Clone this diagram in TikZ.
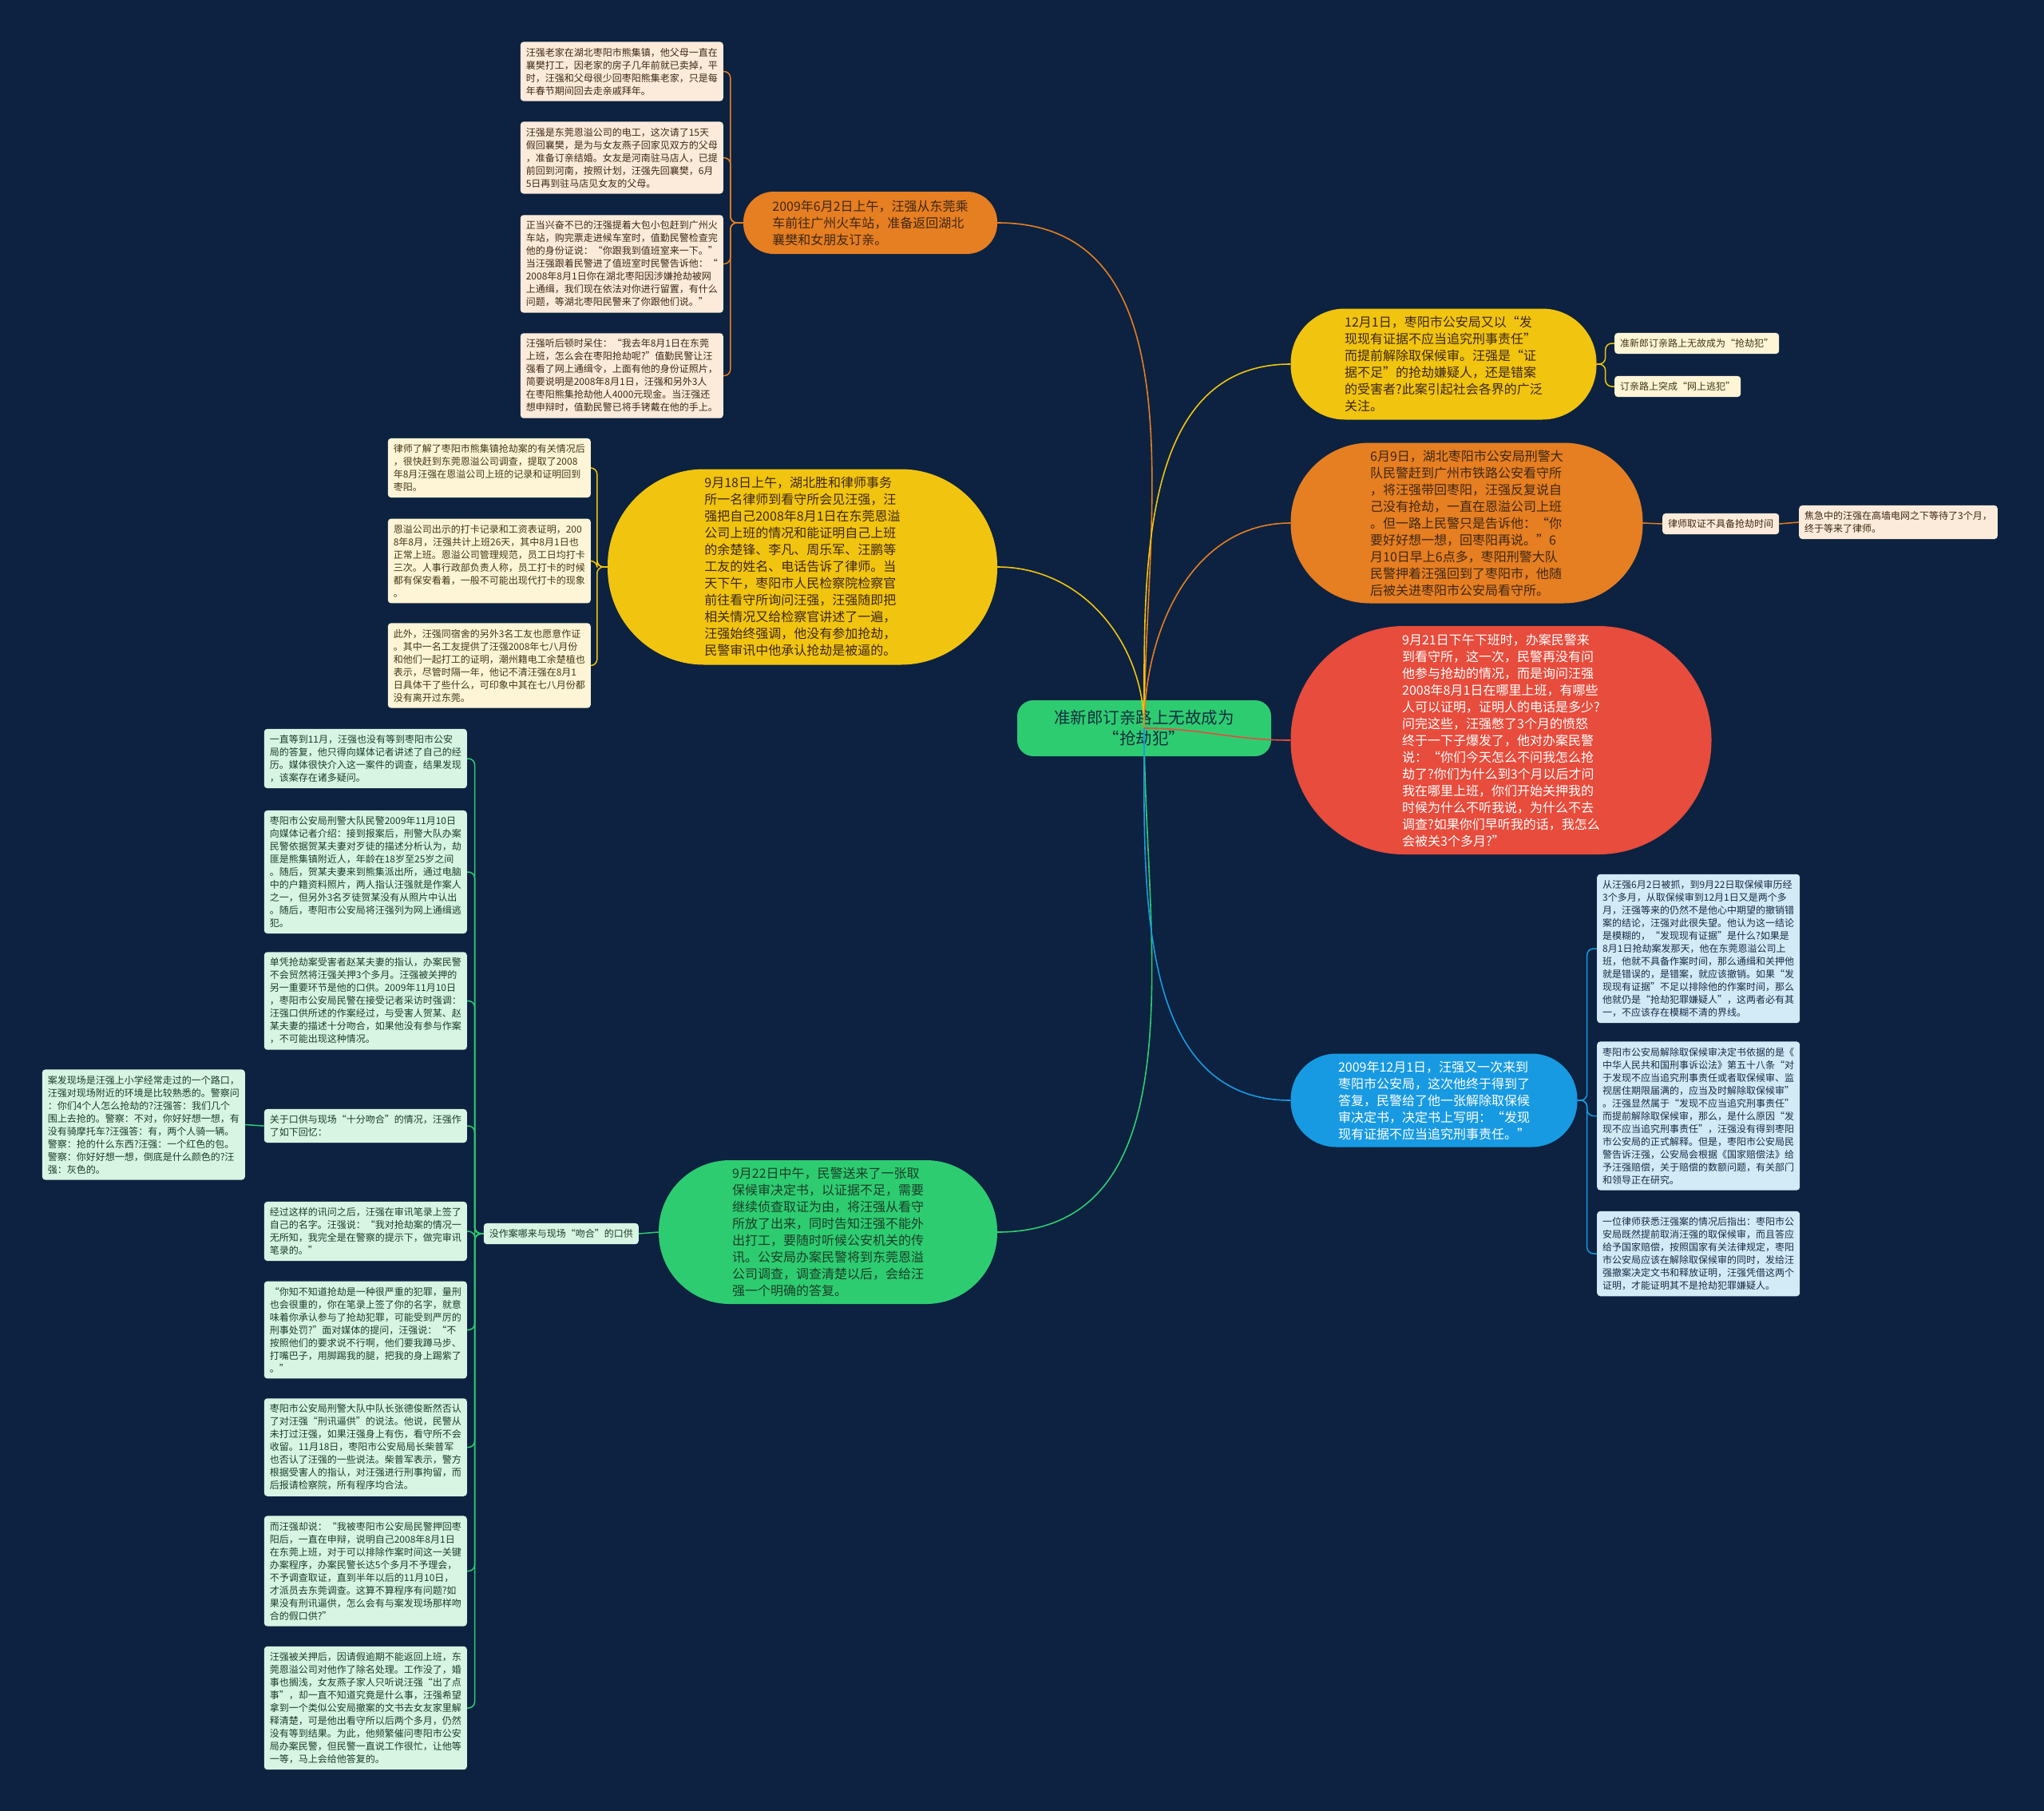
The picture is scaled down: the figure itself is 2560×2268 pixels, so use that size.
\documentclass[tikz,border=0pt]{standalone}
\usepackage{fontspec}
\setmainfont{Noto Sans CJK SC}
\usepackage{xcolor}
\usepackage{tikz}

\definecolor{bgnavy}{RGB}{12,34,64}
\definecolor{brorange}{RGB}{230,126,34}
\definecolor{bryellow}{RGB}{241,196,15}
\definecolor{brgreen}{RGB}{46,204,113}
\definecolor{brred}{RGB}{231,76,60}
\definecolor{brblue}{RGB}{24,154,226}
\definecolor{lforange}{RGB}{252,235,218}
\definecolor{lfyellow}{RGB}{253,245,214}
\definecolor{lfgreen}{RGB}{216,245,228}
\definecolor{lfblue}{RGB}{211,234,247}
\definecolor{inkbrown}{RGB}{62,40,20}
\definecolor{inkolive}{RGB}{66,56,22}
\definecolor{inkgreen}{RGB}{26,62,40}
\definecolor{inkblue}{RGB}{24,44,70}
\definecolor{rootink}{RGB}{18,48,62}

\begin{document}
\begin{tikzpicture}[
  x=1pt,y=1pt,
  leaf/.style={rounded corners=4, align=left, inner xsep=7, inner ysep=7.5, font=\fontsize{12}{16}\selectfont},
  oleaf/.style={leaf, fill=lforange, text=inkbrown},
  yleaf/.style={leaf, fill=lfyellow, text=inkolive},
  gleaf/.style={leaf, fill=lfgreen, text=inkgreen},
  bleaf/.style={leaf, fill=lfblue, text=inkblue},
  branch/.style={align=left, inner sep=0, font=\fontsize{16}{21}\selectfont},
  root/.style={fill=brgreen, text=rootink, rounded corners=20, align=center, minimum width=318, minimum height=70, inner sep=0, font=\fontsize{20.5}{26}\selectfont},
  trunk/.style={line width=1.6},
  twig/.style={line width=1.5, rounded corners=8}
]
\fill[bgnavy] (0,0) rectangle (2560,-2268);

\node[root] (root) at (1433,-912) {准新郎订亲路上无故成为\\“抢劫犯”};

% main branches
\node[branch, fill=brorange, text=inkbrown, minimum width=318, minimum height=78, rounded corners=38] (leave) at (1090,-279)
  {2009年6月2日上午，汪强从东莞乘\\车前往广州火车站，准备返回湖北\\襄樊和女朋友订亲。};
\node[branch, fill=bryellow, text=inkbrown, minimum width=488, minimum height=245, rounded corners=121] (lawyer) at (1005,-710)
  {9月18日上午，湖北胜和律师事务\\所一名律师到看守所会见汪强，汪\\强把自己2008年8月1日在东莞恩溢\\公司上班的情况和能证明自己上班\\的余楚锋、李凡、周乐军、汪鹏等\\工友的姓名、电话告诉了律师。当\\天下午，枣阳市人民检察院检察官\\前往看守所询问汪强，汪强随即把\\相关情况又给检察官讲述了一遍，\\汪强始终强调，他没有参加抢劫，\\民警审讯中他承认抢劫是被逼的。};
\node[branch, fill=brgreen, text=inkgreen, minimum width=424, minimum height=180, rounded corners=89] (release) at (1037,-1543)
  {9月22日中午，民警送来了一张取\\保候审决定书，以证据不足，需要\\继续侦查取证为由，将汪强从看守\\所放了出来，同时告知汪强不能外\\出打工，要随时听候公安机关的传\\讯。公安局办案民警将到东莞恩溢\\公司调查，调查清楚以后，会给汪\\强一个明确的答复。};
\node[branch, fill=bryellow, text=inkbrown, minimum width=383, minimum height=139, rounded corners=68] (cancel) at (1808,-456)
  {12月1日，枣阳市公安局又以“发\\现现有证据不应当追究刑事责任”\\而提前解除取保候审。汪强是“证\\据不足”的抢劫嫌疑人，还是错案\\的受害者?此案引起社会各界的广泛\\关注。};
\node[branch, fill=brorange, text=inkbrown, minimum width=441, minimum height=201, rounded corners=99] (transfer) at (1837,-655)
  {6月9日，湖北枣阳市公安局刑警大\\队民警赶到广州市铁路公安看守所\\，将汪强带回枣阳，汪强反复说自\\己没有抢劫，一直在恩溢公司上班\\。但一路上民警只是告诉他：“你\\要好好想一想，回枣阳再说。”6\\月10日早上6点多，枣阳刑警大队\\民警押着汪强回到了枣阳市，他随\\后被关进枣阳市公安局看守所。};
\node[branch, fill=brred, text=white, minimum width=527, minimum height=286, rounded corners=142] (question) at (1880,-927)
  {9月21日下午下班时，办案民警来\\到看守所，这一次，民警再没有问\\他参与抢劫的情况，而是询问汪强\\2008年8月1日在哪里上班，有哪些\\人可以证明，证明人的电话是多少?\\问完这些，汪强憋了3个月的愤怒\\终于一下子爆发了，他对办案民警\\说：“你们今天怎么不问我怎么抢\\劫了?你们为什么到3个月以后才问\\我在哪里上班，你们开始关押我的\\时候为什么不听我说，为什么不去\\调查?如果你们早听我的话，我怎么\\会被关3个多月?”};
\node[branch, fill=brblue, text=white, minimum width=359, minimum height=117, rounded corners=57] (reply) at (1796,-1378)
  {2009年12月1日，汪强又一次来到\\枣阳市公安局，这次他终于得到了\\答复，民警给了他一张解除取保候\\审决定书，决定书上写明：“发现\\现有证据不应当追究刑事责任。”};

% leaves of the arrest branch
\node[oleaf, anchor=east] (home) at (906,-89.5)
  {汪强老家在湖北枣阳市熊集镇，他父母一直在\\襄樊打工，因老家的房子几年前就已卖掉，平\\时，汪强和父母很少回枣阳熊集老家，只是每\\年春节期间回去走亲戚拜年。};
\node[oleaf, anchor=east] (engage) at (906,-197.5)
  {汪强是东莞恩溢公司的电工，这次请了15天\\假回襄樊，是为与女友燕子回家见双方的父母\\，准备订亲结婚。女友是河南驻马店人，已提\\前回到河南，按照计划，汪强先回襄樊，6月\\5日再到驻马店见女友的父母。};
\node[oleaf, anchor=east] (station) at (906,-330.5)
  {正当兴奋不已的汪强提着大包小包赶到广州火\\车站，购完票走进候车室时，值勤民警检查完\\他的身份证说：“你跟我到值班室来一下。”\\当汪强跟着民警进了值班室时民警告诉他：“\\2008年8月1日你在湖北枣阳因涉嫌抢劫被网\\上通缉，我们现在依法对你进行留置，有什么\\问题，等湖北枣阳民警来了你跟他们说。”};
\node[oleaf, anchor=east] (cuffed) at (906,-470.5)
  {汪强听后顿时呆住：“我去年8月1日在东莞\\上班，怎么会在枣阳抢劫呢?”值勤民警让汪\\强看了网上通缉令，上面有他的身份证照片，\\简要说明是2008年8月1日，汪强和另外3人\\在枣阳熊集抢劫他人4000元现金。当汪强还\\想申辩时，值勤民警已将手铐戴在他的手上。};

% leaves of the lawyer branch
\node[yleaf, anchor=east] (record) at (740,-586)
  {律师了解了枣阳市熊集镇抢劫案的有关情况后\\，很快赶到东莞恩溢公司调查，提取了2008\\年8月汪强在恩溢公司上班的记录和证明回到\\枣阳。};
\node[yleaf, anchor=east] (clockin) at (740,-702.5)
  {恩溢公司出示的打卡记录和工资表证明，200\\8年8月，汪强共计上班26天，其中8月1日也\\正常上班。恩溢公司管理规范，员工日均打卡\\三次。人事行政部负责人称，员工打卡的时候\\都有保安看着，一般不可能出现代打卡的现象\\。};
\node[yleaf, anchor=east] (workmates) at (740,-833.5)
  {此外，汪强同宿舍的另外3名工友也愿意作证\\。其中一名工友提供了汪强2008年七八月份\\和他们一起打工的证明，潮州籍电工余楚植也\\表示，尽管时隔一年，他记不清汪强在8月1\\日具体干了些什么，可印象中其在七八月份都\\没有离开过东莞。};

% leaves of the release branch
\node[gleaf, anchor=east] (confess) at (800,-1545) {没作案哪来与现场“吻合”的口供};
\node[gleaf, anchor=east] (media) at (585,-950)
  {一直等到11月，汪强也没有等到枣阳市公安\\局的答复，他只得向媒体记者讲述了自己的经\\历。媒体很快介入这一案件的调查，结果发现\\，该案存在诸多疑问。};
\node[gleaf, anchor=east] (police) at (585,-1092)
  {枣阳市公安局刑警大队民警2009年11月10日\\向媒体记者介绍：接到报案后，刑警大队办案\\民警依据贺某夫妻对歹徒的描述分析认为，劫\\匪是熊集镇附近人，年龄在18岁至25岁之间\\。随后，贺某夫妻来到熊集派出所，通过电脑\\中的户籍资料照片，两人指认汪强就是作案人\\之一，但另外3名歹徒贺某没有从照片中认出\\。随后，枣阳市公安局将汪强列为网上通缉逃\\犯。};
\node[gleaf, anchor=east] (statement) at (585,-1253.5)
  {单凭抢劫案受害者赵某夫妻的指认，办案民警\\不会贸然将汪强关押3个多月。汪强被关押的\\另一重要环节是他的口供。2009年11月10日\\，枣阳市公安局民警在接受记者采访时强调：\\汪强口供所述的作案经过，与受害人贺某、赵\\某夫妻的描述十分吻合，如果他没有参与作案\\，不可能出现这种情况。};
\node[gleaf, anchor=east] (recall) at (585,-1410)
  {关于口供与现场“十分吻合”的情况，汪强作\\了如下回忆：};
\node[gleaf, anchor=east] (scene) at (307,-1408.5)
  {案发现场是汪强上小学经常走过的一个路口，\\汪强对现场附近的环境是比较熟悉的。警察问\\：你们4个人怎么抢劫的?汪强答：我们几个\\围上去抢的。警察：不对，你好好想一想，有\\没有骑摩托车?汪强答：有，两个人骑一辆。\\警察：抢的什么东西?汪强：一个红色的包。\\警察：你好好想一想，倒底是什么颜色的?汪\\强：灰色的。};
\node[gleaf, anchor=east] (signed) at (585,-1542)
  {经过这样的讯问之后，汪强在审讯笔录上签了\\自己的名字。汪强说：“我对抢劫案的情况一\\无所知，我完全是在警察的提示下，做完审讯\\笔录的。”};
\node[gleaf, anchor=east] (threat) at (585,-1665.5)
  {“你知不知道抢劫是一种很严重的犯罪，量刑\\也会很重的，你在笔录上签了你的名字，就意\\味着你承认参与了抢劫犯罪，可能受到严厉的\\刑事处罚?”面对媒体的提问，汪强说：“不\\按照他们的要求说不行啊，他们要我蹲马步、\\打嘴巴子，用脚踢我的腿，把我的身上踢紫了\\。”};
\node[gleaf, anchor=east] (denial) at (585,-1812.5)
  {枣阳市公安局刑警大队中队长张德俊断然否认\\了对汪强“刑讯逼供”的说法。他说，民警从\\未打过汪强，如果汪强身上有伤，看守所不会\\收留。11月18日，枣阳市公安局局长柴普军\\也否认了汪强的一些说法。柴普军表示，警方\\根据受害人的指认，对汪强进行刑事拘留，而\\后报请检察院，所有程序均合法。};
\node[gleaf, anchor=east] (protest) at (585,-1967.5)
  {而汪强却说：“我被枣阳市公安局民警押回枣\\阳后，一直在申辩，说明自己2008年8月1日\\在东莞上班，对于可以排除作案时间这一关键\\办案程序，办案民警长达5个多月不予理会，\\不予调查取证，直到半年以后的11月10日，\\才派员去东莞调查。这算不算程序有问题?如\\果没有刑讯逼供，怎么会有与案发现场那样吻\\合的假口供?”};
\node[gleaf, anchor=east] (dismissed) at (585,-2139)
  {汪强被关押后，因请假逾期不能返回上班，东\\莞恩溢公司对他作了除名处理。工作没了，婚\\事也搁浅，女友燕子家人只听说汪强“出了点\\事”，却一直不知道究竟是什么事，汪强希望\\拿到一个类似公安局撤案的文书去女友家里解\\释清楚，可是他出看守所以后两个多月，仍然\\没有等到结果。为此，他频繁催问枣阳市公安\\局办案民警，但民警一直说工作很忙，让他等\\一等，马上会给他答复的。};

% leaves on the right
\node[yleaf, anchor=west] (titleA) at (2022,-430) {准新郎订亲路上无故成为“抢劫犯”};
\node[yleaf, anchor=west] (titleB) at (2022,-484) {订亲路上突成“网上逃犯”};
\node[oleaf, anchor=west] (evidence) at (2082,-656) {律师取证不具备抢劫时间};
\node[oleaf, anchor=west] (waiting) at (2253,-654) {焦急中的汪强在高墙电网之下等待了3个月，\\终于等来了律师。};
\node[bleaf, anchor=west] (doubt) at (2000,-1188)
  {从汪强6月2日被抓，到9月22日取保候审历经\\3个多月，从取保候审到12月1日又是两个多\\月，汪强等来的仍然不是他心中期望的撤销错\\案的结论，汪强对此很失望。他认为这一结论\\是模糊的，“发现现有证据”是什么?如果是\\8月1日抢劫案发那天，他在东莞恩溢公司上\\班，他就不具备作案时间，那么通缉和关押他\\就是错误的，是错案，就应该撤销。如果“发\\现现有证据”不足以排除他的作案时间，那么\\他就仍是“抢劫犯罪嫌疑人”，这两者必有其\\一，不应该存在模糊不清的界线。};
\node[bleaf, anchor=west] (basis) at (2000,-1397.5)
  {枣阳市公安局解除取保候审决定书依据的是《\\中华人民共和国刑事诉讼法》第五十八条“对\\于发现不应当追究刑事责任或者取保候审、监\\视居住期限届满的，应当及时解除取保候审”\\。汪强显然属于“发现不应当追究刑事责任”\\而提前解除取保候审，那么，是什么原因“发\\现不应当追究刑事责任”，汪强没有得到枣阳\\市公安局的正式解释。但是，枣阳市公安局民\\警告诉汪强，公安局会根据《国家赔偿法》给\\予汪强赔偿，关于赔偿的数额问题，有关部门\\和领导正在研究。};
\node[bleaf, anchor=west] (advice) at (2000,-1570)
  {一位律师获悉汪强案的情况后指出：枣阳市公\\安局既然提前取消汪强的取保候审，而且答应\\给予国家赔偿，按照国家有关法律规定，枣阳\\市公安局应该在解除取保候审的同时，发给汪\\强撤案决定文书和释放证明，汪强凭借这两个\\证明，才能证明其不是抢劫犯罪嫌疑人。};

% twigs
\foreach \n in {home,engage,station,cuffed}
  \draw[twig, brorange] (leave.west) -- ++(-16,0) |- (\n.east);
\foreach \n in {record,clockin,workmates}
  \draw[twig, bryellow] (lawyer.west) -- ++(-13,0) |- (\n.east);
\draw[twig, brgreen] (release.west) -- (confess.east);
\foreach \n in {media,police,statement,recall,signed,threat,denial,protest,dismissed}
  \draw[twig, brgreen] (confess.west) -- ++(-11,0) |- (\n.east);
\draw[twig, brgreen] (recall.west) -- (scene.east);
\foreach \n in {titleA,titleB}
  \draw[twig, bryellow] (cancel.east) -- ++(11,0) |- (\n.west);
\draw[twig, brorange] (transfer.east) -- (evidence.west);
\draw[twig, brorange] (evidence.east) -- (waiting.west);
\foreach \n in {doubt,basis,advice}
  \draw[twig, brblue] (reply.east) -- ++(12,0) |- (\n.west);

% trunks from the root
\draw[trunk, brorange] (root.center) to[out=90,in=0] (leave.east);
\draw[trunk, bryellow] (root.center) to[out=90,in=0] (lawyer.east);
\draw[trunk, brgreen] (root.center) to[out=-90,in=0] (release.east);
\draw[trunk, bryellow] (root.center) to[out=90,in=180] (cancel.west);
\draw[trunk, brorange] (root.center) to[out=90,in=180] (transfer.west);
\draw[trunk, brred] (root.center) to[out=0,in=180] (question.west);
\draw[trunk, brblue] (root.center) to[out=-90,in=180] (reply.west);
\end{tikzpicture}
\end{document}
